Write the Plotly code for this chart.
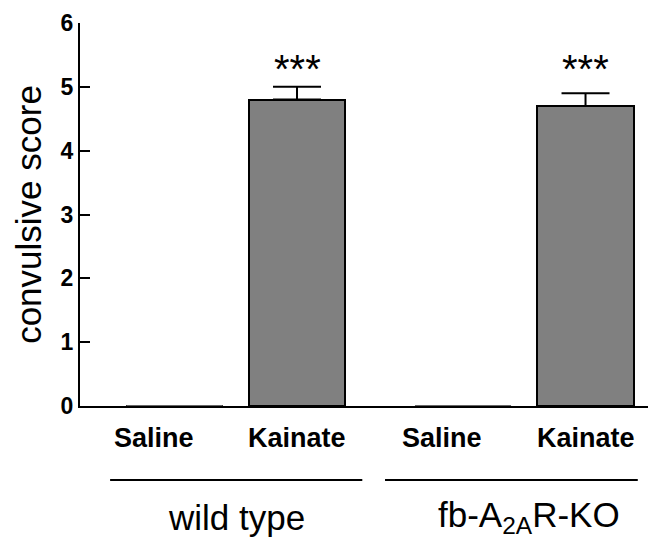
import plotly.graph_objects as go

# ---- data ----
groups = ["wild type", "fb-A<sub>2A</sub>R-KO"]
treatments = ["Saline", "Kainate", "Saline", "Kainate"]
scores = [0.0, 4.8, 0.0, 4.7]
sem = [0.0, 0.2, 0.0, 0.2]
signif = ["", "***", "", "***"]
y_ticks = [0, 1, 2, 3, 4, 5, 6]

# bar positions on a numeric axis (gap between genotype groups)
xpos = [0.0, 1.0, 2.355, 3.355]
bar_w = 0.785

FONT = "Liberation Sans, Arial, sans-serif"

fig = go.Figure()

fig.add_trace(go.Bar(
    x=xpos, y=scores, width=bar_w,
    marker=dict(color="#808080", line=dict(color="black", width=2)),
    error_y=dict(type="data", symmetric=False,
                 array=[e if v > 0 else None for v, e in zip(scores, sem)],
                 arrayminus=[0 if v > 0 else None for v in scores],
                 color="black", thickness=2, width=24),
    showlegend=False, hoverinfo="skip",
))

# zero-valued bars drawn as flat lines
for xp, v in zip(xpos, scores):
    if v == 0:
        fig.add_trace(go.Scatter(
            x=[xp - bar_w / 2, xp + bar_w / 2], y=[v, v], mode="lines",
            line=dict(color="#888888", width=1.5),
            showlegend=False, hoverinfo="skip",
        ))

# significance stars
star_y = max(s + e for s, e in zip(scores, sem))
for xp, txt in zip(xpos, signif):
    if txt:
        fig.add_annotation(x=xp, y=star_y, yanchor="bottom", yshift=-6,
                           xanchor="center",
                           text=txt, showarrow=False,
                           font=dict(family=FONT, size=40, color="black"))

# treatment labels
for xp, lab in zip(xpos, treatments):
    fig.add_annotation(x=xp, y=-0.083, yref="paper", yanchor="middle",
                       xanchor="center",
                       xshift=-21 if lab == "Saline" else 0,
                       text="<b>%s</b>" % lab, showarrow=False,
                       font=dict(family=FONT, size=27, color="black"))

# group lines and labels
group_lines = [(0.053, 0.497), (0.537, 0.982)]
group_label_x = [0.276, 0.790]
for (x0, x1), gx, g in zip(group_lines, group_label_x, groups):
    fig.add_shape(type="line", xref="paper", yref="paper",
                  x0=x0, x1=x1, y0=-0.193, y1=-0.193,
                  line=dict(color="black", width=2))
    fig.add_annotation(x=gx, y=-0.29, xref="paper", yref="paper",
                       xanchor="center", yanchor="middle", text=g,
                       showarrow=False,
                       font=dict(family=FONT, size=35, color="black"))

fig.update_layout(
    width=648, height=538,
    margin=dict(l=80, r=0, t=23, b=132, autoexpand=False),
    paper_bgcolor="white", plot_bgcolor="white",
    bargap=0,
    xaxis=dict(range=[-0.7714, 3.865], showline=True, linecolor="black",
               linewidth=2, showticklabels=False, ticks="", showgrid=False,
               zeroline=False, fixedrange=True, layer="below traces"),
    yaxis=dict(range=[0, 6], tickvals=y_ticks, showline=True,
               linecolor="black", linewidth=2, ticks="inside", ticklen=10,
               tickwidth=2, tickcolor="black", showgrid=False, zeroline=False,
               tickfont=dict(family=FONT, size=23, color="black", weight="bold"),
               ticklabelstandoff=0, fixedrange=True,
               title=dict(text="convulsive score", standoff=8,
                          font=dict(family=FONT, size=35, color="black"))),
)

fig.write_html("out.html", config={"displayModeBar": False},
               post_script="document.body.style.margin='0';document.body.style.padding='0';")
